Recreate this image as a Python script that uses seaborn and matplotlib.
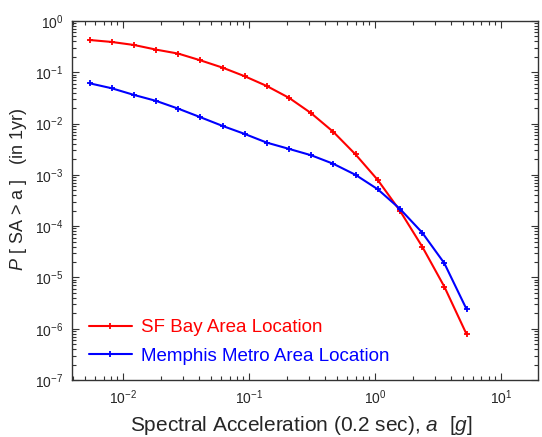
import numpy as np
import pandas as pd
import matplotlib
matplotlib.use("Agg")
import matplotlib.pyplot as plt
import seaborn as sns
from matplotlib.ticker import (LogLocator, FixedLocator, LogFormatterSciNotation,
                               NullFormatter)

# Spectral acceleration levels (g)
sa_levels = [0.0054, 0.0081, 0.0122, 0.0183, 0.0274, 0.041, 0.0616, 0.0923,
             0.138, 0.208, 0.311, 0.467, 0.70, 1.05, 1.58, 2.37, 3.55, 5.33]

# Annual probability of exceedance at each level
sf_bay = [0.426, 0.390, 0.340, 0.276, 0.231, 0.171, 0.123, 0.0836,
          0.054, 0.0316, 0.0159, 0.00686, 0.0025, 0.000796, 0.000198,
          3.98e-5, 6.6e-6, 7.8e-7]
memphis = [0.0610, 0.0488, 0.0361, 0.0276, 0.0195, 0.0133, 0.00898, 0.00627,
           0.00425, 0.0032, 0.00241, 0.00164, 0.001, 0.000524, 0.000216,
           7.46e-5, 1.89e-5, 2.4e-6]

site_names = ["SF Bay Area Location", "Memphis Metro Area Location"]
site_colors = ["#ff0000", "#0000ff"]

# decade ticks on each axis
x_decades = [1e-2, 1e-1, 1e0, 1e1]
y_decades = [1e-7, 1e-6, 1e-5, 1e-4, 1e-3, 1e-2, 1e-1, 1e0]

df = pd.DataFrame({
    "sa": sa_levels * 2,
    "p": sf_bay + memphis,
    "site": [site_names[0]] * len(sa_levels) + [site_names[1]] * len(sa_levels),
})

sns.set_style("white")
plt.rcParams["font.family"] = ["Liberation Sans", "DejaVu Sans"]
plt.rcParams["mathtext.fontset"] = "custom"
plt.rcParams["mathtext.rm"] = "Liberation Sans"
plt.rcParams["mathtext.it"] = "Liberation Sans:italic"
plt.rcParams["mathtext.bf"] = "Liberation Sans:bold"

fig = plt.figure(figsize=(5.42, 4.37), dpi=100)
ax = fig.add_axes([0.1323, 0.1304, 0.8594, 0.8216])

sns.lineplot(data=df, x="sa", y="p", hue="site", hue_order=site_names,
             palette=site_colors, marker="+", markersize=5,
             linewidth=1.5, ax=ax, sort=False, estimator=None, legend=False)

# markers in the same colour as their line
for line in ax.lines:
    line.set_markeredgecolor(line.get_color())
    line.set_markerfacecolor(line.get_color())
    line.set_markeredgewidth(1.3)
    line.set_linestyle("-")

ax.set_xscale("log")
ax.set_yscale("log")
ax.set_xlim(0.0039, 19.5)
ax.set_ylim(1e-7, 1)

ax.xaxis.set_major_locator(FixedLocator(x_decades))
ax.yaxis.set_major_locator(FixedLocator(y_decades))
ax.xaxis.set_minor_locator(LogLocator(base=10, subs=np.arange(2, 10), numticks=20))
ax.yaxis.set_minor_locator(LogLocator(base=10, subs=np.arange(2, 10), numticks=20))
ax.xaxis.set_major_formatter(LogFormatterSciNotation())
ax.yaxis.set_major_formatter(LogFormatterSciNotation())
ax.xaxis.set_minor_formatter(NullFormatter())
ax.yaxis.set_minor_formatter(NullFormatter())

ax.tick_params(which="both", direction="in", top=True, right=True,
               bottom=True, left=True, color="#333333", width=0.8)
ax.tick_params(which="major", length=5, labelsize=10, pad=6)
ax.tick_params(which="minor", length=3)
for sp in ax.spines.values():
    sp.set_color("#333333")
    sp.set_linewidth(1.0)

ax.set_xlabel(r"Spectral Acceleration (0.2 sec), $a$  [$g$]", fontsize=15)
ax.set_ylabel(r"$P$ [ SA > a ]   (in 1yr)", fontsize=13)
ax.xaxis.set_label_coords(0.494, -0.094)
ax.yaxis.set_label_coords(-0.092, 0.532)

leg = ax.legend(handles=ax.lines[:2], labels=site_names,
                loc="lower left", bbox_to_anchor=(0.0, -0.005), frameon=False,
                fontsize=13.5, handlelength=2.3, handletextpad=0.5,
                labelspacing=0.62)
for txt, col in zip(leg.get_texts(), site_colors):
    txt.set_color(col)

fig.savefig("out.png", dpi=100)
